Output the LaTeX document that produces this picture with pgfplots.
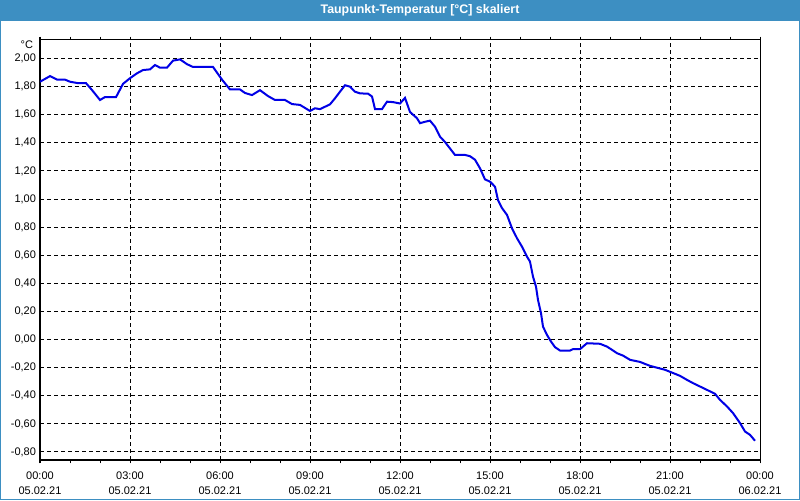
\documentclass[border=0pt]{standalone}
\usepackage{pgfplots}
\pgfplotsset{compat=1.18}
\usepackage{fontspec}
\setmainfont{Liberation Sans}
\definecolor{titlebar}{RGB}{61,143,194}
\definecolor{curve}{RGB}{0,0,230}
\begin{document}
\begin{tikzpicture}[x=1pt,y=1pt]
\useasboundingbox (0,0) rectangle (600,375);
\fill[white] (0,0) rectangle (600,375);
\fill[titlebar] (0,359.25) rectangle (600,375);
\draw[titlebar, line width=0.75pt] (0.375,0.375) rectangle (599.625,374.625);
\node[text=white, font=\bfseries\fontsize{9.3pt}{10pt}\selectfont] at (315,367.2) {Taupunkt-Temperatur [°C] skaliert};
\node[anchor=north east, inner sep=0pt, font=\fontsize{8.25pt}{10pt}\selectfont] at (25,344.5) {°C};
\begin{axis}[
  at={(30pt,30pt)}, anchor=south west,
  scale only axis, width=540pt, height=315pt,
  xmin=0, xmax=24, ymin=-0.857, ymax=2.132,
  xtick={0,3,...,24},
  xticklabels={{00:00\\05.02.21},{03:00\\05.02.21},{06:00\\05.02.21},{09:00\\05.02.21},{12:00\\05.02.21},{15:00\\05.02.21},{18:00\\05.02.21},{21:00\\05.02.21},{00:00\\06.02.21}},
  minor xtick={1,2,4,5,7,8,10,11,13,14,16,17,19,20,22,23},
  ytick={-0.8,-0.6,...,2.01},
  tick align=outside,
  xtick style={black, line width=0.75pt},
  major tick length=2.5pt, minor tick length=2.5pt,
  ytick style={draw=none},
  xmajorgrids, ymajorgrids,
  major grid style={black, line width=0.75pt, dash pattern=on 3pt off 2.25pt},
  axis line style={black, line width=0.75pt},
  tick label style={font=\fontsize{8.25pt}{11pt}\selectfont, text=black},
  xticklabel style={align=center, yshift=-3pt},
  yticklabel style={xshift=3pt},
  /pgf/number format/.cd, fixed, fixed zerofill, precision=2, use comma, assume math mode=true,
]
\addplot[curve, line width=1.5pt] coordinates {
(0,1.835) (0.333,1.875) (0.567,1.85) (0.833,1.85) (1.0,1.835) (1.267,1.825) (1.533,1.825)
(1.733,1.776) (2.0,1.705) (2.167,1.726) (2.533,1.725) (2.767,1.82) (3.0,1.86) (3.233,1.895)
(3.433,1.918) (3.667,1.923) (3.833,1.954) (4.0,1.935) (4.233,1.935) (4.433,1.985) (4.667,1.994)
(4.9,1.96) (5.1,1.94) (5.767,1.94) (6.067,1.85) (6.333,1.78) (6.667,1.78) (6.833,1.755)
(7.067,1.74) (7.333,1.775) (7.6,1.733) (7.833,1.705) (8.167,1.705) (8.4,1.676) (8.667,1.67)
(9.0,1.627) (9.167,1.646) (9.333,1.64) (9.5,1.657) (9.667,1.674) (9.833,1.717) (10.0,1.764)
(10.167,1.81) (10.333,1.80) (10.5,1.764) (10.667,1.752) (10.933,1.75) (11.067,1.73) (11.167,1.64)
(11.4,1.64) (11.567,1.693) (11.767,1.69) (12.0,1.68) (12.167,1.72) (12.333,1.62) (12.567,1.575)
(12.667,1.54) (12.833,1.55) (13.0,1.558) (13.167,1.515) (13.333,1.444) (13.5,1.406) (13.833,1.314)
(14.167,1.314) (14.333,1.305) (14.5,1.28) (14.667,1.219) (14.833,1.14) (15.0,1.124) (15.167,1.088)
(15.267,0.993) (15.4,0.936) (15.567,0.887) (15.733,0.792) (15.9,0.721) (16.067,0.661) (16.233,0.59)
(16.333,0.555) (16.433,0.448) (16.533,0.377) (16.6,0.282) (16.7,0.188) (16.767,0.092) (16.9,0.033)
(17.033,-0.014) (17.167,-0.054) (17.333,-0.078) (17.667,-0.078) (17.767,-0.068) (18.0,-0.068)
(18.233,-0.026) (18.667,-0.03) (18.9,-0.05) (19.067,-0.073) (19.233,-0.097) (19.433,-0.114)
(19.667,-0.144) (20.0,-0.159) (20.333,-0.187) (20.833,-0.215) (21.333,-0.258) (21.567,-0.287)
(21.767,-0.31) (22.0,-0.334) (22.233,-0.358) (22.5,-0.386) (22.667,-0.429) (22.9,-0.476)
(23.1,-0.523) (23.333,-0.594) (23.5,-0.654) (23.667,-0.678) (23.833,-0.72)
};
\end{axis}
\end{tikzpicture}
\end{document}
